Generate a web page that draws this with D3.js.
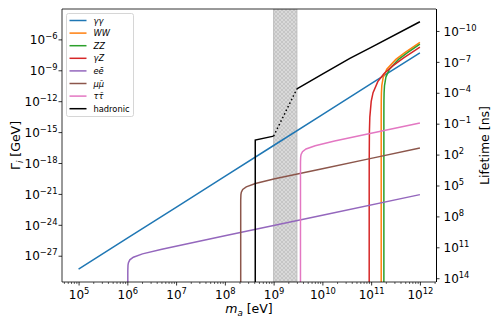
<!DOCTYPE html>
<html>
<head>
<meta charset="utf-8">
<script src="https://cdn.jsdelivr.net/npm/d3@7"></script>
<style>
body { margin: 0; background: #fff; }
svg text { font-family: "DejaVu Sans", sans-serif; }
</style>
</head>
<body>
<svg id="chart" width="499" height="322"></svg>
<script>
// decay widths [m_a in eV, Gamma in GeV]
const gammaGamma = [[1e5, 5.01e-29], [1e6, 5.01e-26], [1e7, 5.01e-23], [1e8, 5.01e-20], [1e9, 5.01e-17], [1e10, 5.01e-14], [1e11, 5.01e-11], [1e12, 5.01e-8]];
const wW = [[1.608e11, 1e-40], [1.6082e11, 6.31e-15], [1.6096e11, 2.0e-13], [1.6128e11, 1.05e-12], [1.624e11, 6.31e-12], [1.656e11, 3.39e-11], [1.769e11, 2.14e-10], [2.09e11, 1.29e-9], [3.216e11, 1.15e-8], [4.824e11, 5.01e-8], [1e12, 5.13e-7]];
const zZ = [[1.824e11, 1e-40], [1.8242e11, 6.17e-15], [1.8258e11, 1.95e-13], [1.8295e11, 1.02e-12], [1.8422e11, 6.31e-12], [1.8787e11, 3.31e-11], [2.0064e11, 2.14e-10], [2.371e11, 1.26e-9], [3.648e11, 1.15e-8], [5.472e11, 5.01e-8], [1e12, 3.47e-7]];
const gammaZ = [[9.12e10, 1e-40], [9.121e10, 1.1e-21], [9.129e10, 1.1e-18], [9.211e10, 1.07e-15], [9.394e10, 2.88e-14], [1.003e11, 9.55e-13], [1.094e11, 6.76e-12], [1.368e11, 7.94e-11], [1.824e11, 4.68e-10], [2.736e11, 2.57e-9], [4.56e11, 1.51e-8], [1e12, 1.78e-7]];
const eE = [[1.022e6, 1e-40], [1.0221e6, 1.23e-29], [1.023e6, 3.89e-29], [1.032e6, 1.23e-28], [1.053e6, 2.14e-28], [1.124e6, 3.98e-28], [1.329e6, 7.24e-28], [2.044e6, 1.51e-27], [5.11e6, 4.27e-27], [1e8, 8.51e-26], [1e10, 8.51e-24], [1e12, 8.51e-22]];
const muMu = [[2.113e8, 1e-40], [2.1132e8, 8.32e-23], [2.115e8, 2.63e-22], [2.134e8, 8.51e-22], [2.177e8, 1.48e-21], [2.324e8, 2.75e-21], [2.747e8, 4.9e-21], [4.226e8, 1.02e-20], [1.057e9, 2.92e-20], [1e10, 2.82e-19], [1e11, 2.82e-18], [1e12, 2.82e-17]];
const tauTau = [[3.554e9, 1e-40], [3.5544e9, 3.89e-19], [3.558e9, 1.23e-18], [3.589e9, 3.89e-18], [3.66e9, 6.76e-18], [3.909e9, 1.26e-17], [4.62e9, 2.29e-17], [7.108e9, 4.79e-17], [1.777e10, 1.35e-16], [1e11, 7.76e-16], [1e12, 7.76e-15]];
const hadronicLow = [[4.2e8, 1e-40], [4.2e8, 1.66e-16], [1e9, 4.07e-16]];
const hadronicGap = [[1e9, 4.07e-16], [3e9, 1.58e-11]];
const hadronicHigh = [[3e9, 1.58e-11], [1e10, 4.17e-10], [3.66e10, 1.41e-8], [1e11, 1.7e-7], [1e12, 5.13e-5]];

// hatched band where the hadronic width is not computed
const gapBand = [1e9, 3e9];

const labels = ['γγ', 'WW', 'ZZ', 'γZ', 'eē', 'μμ̄', 'ττ̄', 'hadronic'];
const xTicks = [1e5, 1e6, 1e7, 1e8, 1e9, 1e10, 1e11, 1e12];
const yTicks = [1e-27, 1e-24, 1e-21, 1e-18, 1e-15, 1e-12, 1e-9, 1e-6];
const lifetimeTicks = [1e-10, 1e-7, 1e-4, 1e-1, 1e2, 1e5, 1e8, 1e11, 1e14];

const colors = ['#1f77b4', '#ff7f0e', '#2ca02c', '#d62728', '#9467bd', '#8c564b', '#e377c2', '#000000'];
const HBAR = 6.582e-16; // GeV ns

const svg = d3.select('#chart');
const pLeft = 62, pRight = 436, pTop = 9, pBottom = 282;

const x = d3.scaleLog().domain([Math.pow(10, 4.66), Math.pow(10, 12.33)]).range([pLeft, pRight]);
const yLow = Math.pow(10, -29.55), yHigh = Math.pow(10, -3.05);
const y = d3.scaleLog().domain([yLow, yHigh]).range([pBottom, pTop]);
const yR = d3.scaleLog().domain([HBAR / yLow, HBAR / yHigh]).range([pBottom, pTop]);

const defs = svg.append('defs');
defs.append('clipPath').attr('id', 'plot-clip')
    .append('rect').attr('x', pLeft).attr('y', pTop).attr('width', pRight - pLeft).attr('height', pBottom - pTop);

const pat = defs.append('pattern').attr('id', 'hatch')
    .attr('patternUnits', 'userSpaceOnUse').attr('width', 4).attr('height', 4);
pat.append('rect').attr('width', 4).attr('height', 4).attr('fill', '#d9d9d9');
pat.append('path').attr('d', 'M0,0L4,4M4,0L0,4').attr('stroke', '#b8b8b8').attr('stroke-width', 0.6);

const plot = svg.append('g').attr('clip-path', 'url(#plot-clip)');

plot.append('rect')
    .attr('x', x(gapBand[0]))
    .attr('y', pTop)
    .attr('width', x(gapBand[1]) - x(gapBand[0]))
    .attr('height', pBottom - pTop)
    .attr('fill', 'url(#hatch)')
    .attr('stroke', '#bdbdbd')
    .attr('stroke-width', 1);

const line = d3.line().x(d => x(d[0])).y(d => y(d[1]));

const series = [gammaGamma, wW, zZ, gammaZ, eE, muMu, tauTau];
series.forEach((s, i) => {
    plot.append('path')
        .attr('d', line(s))
        .attr('fill', 'none')
        .attr('stroke', colors[i])
        .attr('stroke-width', 1.5);
});

[hadronicLow, hadronicHigh].forEach(s => {
    plot.append('path').attr('d', line(s)).attr('fill', 'none')
        .attr('stroke', colors[7]).attr('stroke-width', 1.5);
});
plot.append('path').attr('d', line(hadronicGap)).attr('fill', 'none')
    .attr('stroke', colors[7]).attr('stroke-width', 1.5)
    .attr('stroke-dasharray', '1.5,2.5');

// tick labels like 10^-6
function sciLabels(sel) {
    sel.selectAll('.tick text').each(function(d) {
        const t = d3.select(this);
        const e = Math.round(Math.log10(d));
        t.text(null).attr('font-size', '12px').attr('fill', '#000');
        t.append('tspan').text('10');
        t.append('tspan').attr('dy', -5).attr('font-size', '8.4px')
            .text(e < 0 ? '\u2212' + (-e) : String(e));
    });
}

const minorX = [];
for (let k = 4; k <= 12; k++) {
    for (let j = 2; j <= 9; j++) {
        const v = j * Math.pow(10, k);
        if (v > x.domain()[0] && v < x.domain()[1]) minorX.push(v);
    }
}

const gxMinor = svg.append('g').attr('transform', `translate(0,${pBottom})`)
    .call(d3.axisBottom(x).tickValues(minorX).tickSize(2).tickSizeOuter(0).tickFormat(''));
gxMinor.select('.domain').remove();
gxMinor.selectAll('line').attr('stroke-width', 0.6);

const gx = svg.append('g').attr('transform', `translate(0,${pBottom})`)
    .call(d3.axisBottom(x).tickValues(xTicks).tickSize(3.5).tickSizeOuter(0).tickPadding(3.5));
gx.select('.domain').remove();
gx.selectAll('line').attr('stroke-width', 0.8);
sciLabels(gx);
gx.selectAll('.tick text').attr('dy', null).attr('y', 16.5);

const gy = svg.append('g').attr('transform', `translate(${pLeft},0)`)
    .call(d3.axisLeft(y).tickValues(yTicks).tickSize(3.5).tickSizeOuter(0).tickPadding(3.5));
gy.select('.domain').remove();
gy.selectAll('line').attr('stroke-width', 0.8);
sciLabels(gy);
gy.selectAll('.tick text').attr('dy', null).attr('y', 4.2).attr('x', -4.5);

const gyR = svg.append('g').attr('transform', `translate(${pRight},0)`)
    .call(d3.axisRight(yR).tickValues(lifetimeTicks).tickSize(3.5).tickSizeOuter(0).tickPadding(3.5));
gyR.select('.domain').remove();
gyR.selectAll('line').attr('stroke-width', 0.8);
sciLabels(gyR);
gyR.selectAll('.tick text').attr('dy', null).attr('y', 4.2).attr('x', 7.5);

// spines
svg.append('line').attr('x1', pLeft).attr('x2', pLeft).attr('y1', pTop).attr('y2', pBottom).attr('stroke', '#000').attr('stroke-width', 0.8);
svg.append('line').attr('x1', pLeft).attr('x2', pRight).attr('y1', pTop).attr('y2', pTop).attr('stroke', '#000').attr('stroke-width', 0.8);
svg.append('line').attr('x1', pLeft).attr('x2', pRight).attr('y1', pBottom).attr('y2', pBottom).attr('stroke', '#000').attr('stroke-width', 0.8);
svg.append('line').attr('x1', pRight + 0.5).attr('x2', pRight + 0.5).attr('y1', pTop).attr('y2', pBottom).attr('stroke', '#000').attr('stroke-width', 1);

// axis labels
const xl = svg.append('text').attr('x', (pLeft + pRight) / 2).attr('y', 313)
    .attr('text-anchor', 'middle').attr('font-size', '12.5px');
xl.append('tspan').attr('font-style', 'italic').text('m');
xl.append('tspan').attr('font-style', 'italic').attr('font-size', '8.7px').attr('dy', 2.5).text('a');
xl.append('tspan').attr('dy', -2.5).text(' [eV]');

const yl = svg.append('text').attr('transform', `translate(20,${(pTop + pBottom) / 2}) rotate(-90)`)
    .attr('text-anchor', 'middle').attr('font-size', '12.5px');
yl.append('tspan').text('Γ');
yl.append('tspan').attr('font-style', 'italic').attr('font-size', '8.7px').attr('dy', 2.5).text('i');
yl.append('tspan').attr('dy', -2.5).text(' [GeV]');

svg.append('text').attr('transform', `translate(489,${(pTop + pBottom) / 2}) rotate(-90)`)
    .attr('text-anchor', 'middle').attr('font-size', '12.5px').text('Lifetime [ns]');

// legend
const legend = svg.append('g').attr('transform', 'translate(66.5,13.5)');
legend.append('rect').attr('width', 67).attr('height', 103).attr('rx', 2)
    .attr('fill', '#fff').attr('fill-opacity', 0.8).attr('stroke', '#cccccc').attr('stroke-width', 0.8);
labels.forEach((lab, i) => {
    const ly = 7 + i * 12.6;
    legend.append('line').attr('x1', 3).attr('x2', 20).attr('y1', ly).attr('y2', ly)
        .attr('stroke', colors[i]).attr('stroke-width', 1.5);
    legend.append('text').attr('x', 27).attr('y', ly + 3).attr('font-size', '8.3px')
        .attr('font-style', i < 7 ? 'italic' : 'normal').text(lab);
});
</script>
</body>
</html>
